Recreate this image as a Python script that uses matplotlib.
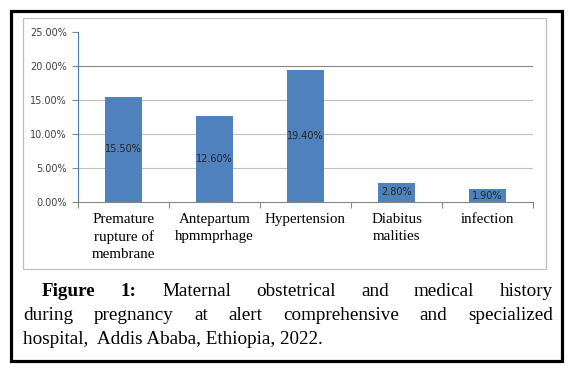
import matplotlib.pyplot as plt
from matplotlib.patches import Rectangle
from matplotlib.ticker import FuncFormatter

# データ
categories = ['Premature\nrupture of\nmembrane', 'Antepartum\nhpmmprhage', 'Hypertension',
              'Diabitus\nmalities', 'infection']
values = [15.5, 12.6, 19.4, 2.8, 1.9]
value_labels = ['15.50%', '12.60%', '19.40%', '2.80%', '1.90%']
yticks = [0, 5, 10, 15, 20, 25]

caption_lines = [
    [('Figure', 'bold'), ('1:', 'bold'), ('Maternal', 'normal'), ('obstetrical', 'normal'),
     ('and', 'normal'), ('medical', 'normal'), ('history', 'normal')],
    [('during', 'normal'), ('pregnancy', 'normal'), ('at', 'normal'), ('alert', 'normal'),
     ('comprehensive', 'normal'), ('and', 'normal'), ('specialized', 'normal')],
]
caption_last = 'hospital,  Addis Ababa, Ethiopia, 2022.'

W, H = 572, 371
fig = plt.figure(figsize=(W / 100, H / 100), dpi=100)


def fx(px):
    return px / W


def fy(py):
    return 1 - py / H


# 外枠
fig.patches.append(Rectangle((fx(10.5), fy(360.5)), fx(551), 349.5 / H, transform=fig.transFigure,
                             fill=False, edgecolor='black', linewidth=2.3))
# グラフ枠
fig.patches.append(Rectangle((fx(23.5), fy(269)), fx(522.5), 251 / H, transform=fig.transFigure,
                             fill=False, edgecolor='#BFBFBF', linewidth=0.9))

ax = fig.add_axes([fx(78), fy(202), fx(533 - 78), 170 / H])
x = range(len(values))
bars = ax.bar(x, values, width=0.4, color='#4F81BD', zorder=3)
for bar, lab in zip(bars, value_labels):
    ax.text(bar.get_x() + bar.get_width() / 2, bar.get_height() / 2, lab,
            ha='center', va='center', fontsize=7, color='#262626', zorder=4)

ax.set_xlim(-0.5, len(values) - 0.5)
ax.set_ylim(0, 25)
ax.set_yticks(yticks)
ax.yaxis.set_major_formatter(FuncFormatter(lambda v, p: f'{v:.2f}%'))
ax.tick_params(axis='y', length=4, width=0.8, color='#868686', labelsize=7,
               labelcolor='#404040', pad=4)

ax.set_xticks(list(x))
ax.set_xticklabels(categories, fontfamily='Liberation Serif', fontsize=10.8, linespacing=1.4)
ax.tick_params(axis='x', which='major', length=0, pad=8)
ax.set_xticks([i - 0.5 for i in range(len(values) + 1)], minor=True)
ax.tick_params(axis='x', which='minor', length=4, width=0.8, color='#868686', direction='out')

ax.grid(axis='y', color='#BFBFBF', linewidth=0.8, zorder=0)
grid = ax.get_ygridlines()
grid[4].set_color('#868686')
grid[5].set_visible(False)
grid[0].set_visible(False)

for s in ['top', 'right']:
    ax.spines[s].set_visible(False)
ax.spines['left'].set_color('#4A7EBB')
ax.spines['left'].set_linewidth(0.8)
ax.spines['bottom'].set_color('#868686')
ax.spines['bottom'].set_linewidth(0.8)

# キャプション（両端揃え）
fig.canvas.draw()
renderer = fig.canvas.get_renderer()
cap_size = 13.8


def justify(words, x0, x1, y):
    texts = []
    for w, weight in words:
        t = fig.text(0, fy(y), w, fontfamily='Liberation Serif', fontsize=cap_size,
                     fontweight=weight, va='center', ha='left')
        texts.append(t)
    widths = [t.get_window_extent(renderer).width for t in texts]
    gap = (x1 - x0 - sum(widths)) / (len(texts) - 1)
    pos = x0
    for t, w in zip(texts, widths):
        t.set_x(fx(pos))
        pos += w + gap


justify(caption_lines[0], 42, 553, 292)
justify(caption_lines[1], 23, 553, 316)
fig.text(fx(23), fy(339), caption_last, fontfamily='Liberation Serif', fontsize=cap_size,
         va='center', ha='left')

fig.savefig('out.png', dpi=100)
